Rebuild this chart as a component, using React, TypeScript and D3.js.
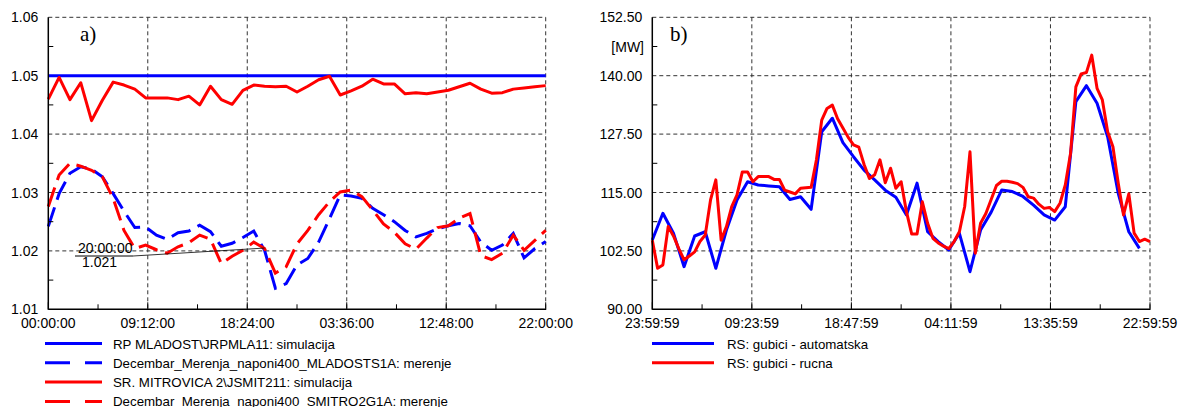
import React from 'react';
import * as d3 from 'd3';

// ---------- Chart a) : voltages (p.u.), hourly over 46 h ----------
const leftXTickLabels = ['00:00:00', '09:12:00', '18:24:00', '03:36:00', '12:48:00', '22:00:00'];
const leftYTicks = [1.01, 1.02, 1.03, 1.04, 1.05, 1.06];
const leftYTickLabels = ['1.01', '1.02', '1.03', '1.04', '1.05', '1.06'];

const simTimes = [0, 46];
const mladostSim = [1.05, 1.05];

const mitrovicaSim = [
  1.0460, 1.0497, 1.0459, 1.0488, 1.0423, 1.0458, 1.0489, 1.0484, 1.0477, 1.0462,
  1.0462, 1.0462, 1.0459, 1.0465, 1.0450, 1.0482, 1.0459, 1.0451, 1.0475, 1.0484,
  1.0482, 1.0481, 1.0482, 1.0472, 1.0482, 1.0493, 1.0499, 1.0467, 1.0474, 1.0482,
  1.0494, 1.0486, 1.0486, 1.0469, 1.0471, 1.0469, 1.0472, 1.0475, 1.0481, 1.0487,
  1.0477, 1.0470, 1.0471, 1.0477, 1.0479, 1.0481, 1.0483,
];

const mladostMeas = [
  1.0242, 1.0298, 1.0333, 1.0344, 1.0340, 1.0327, 1.0298, 1.0268, 1.0240, 1.0241,
  1.0227, 1.0220, 1.0231, 1.0234, 1.0244, 1.0233, 1.0208, 1.0213, 1.0223, 1.0234,
  1.0201, 1.0136, 1.0144, 1.0176, 1.0187, 1.0215, 1.0255, 1.0296, 1.0294, 1.0290,
  1.0273, 1.0262, 1.0250, 1.0235, 1.0224, 1.0230, 1.0238, 1.0243, 1.0247, 1.0243,
  1.0215, 1.0201, 1.0210, 1.0230, 1.0188, 1.0204, 1.0216,
];

const mitrovicaMeas = [
  1.0276, 1.0330, 1.0350, 1.0345, 1.0338, 1.0327, 1.0290, 1.0235, 1.0204, 1.0210,
  1.0202, 1.0196, 1.0207, 1.0214, 1.0227, 1.0220, 1.0178, 1.0191, 1.0201, 1.0215,
  1.0204, 1.0162, 1.0173, 1.0212, 1.0235, 1.0262, 1.0284, 1.0301, 1.0304, 1.0293,
  1.0270, 1.0246, 1.0232, 1.0212, 1.0203, 1.0222, 1.0240, 1.0243, 1.0256, 1.0264,
  1.0192, 1.0185, 1.0196, 1.0227, 1.0201, 1.0218, 1.0235,
];

const leftLegend = [
  'RP MLADOST\\JRPMLA11: simulacija',
  'Decembar_Merenja_naponi400_MLADOSTS1A: merenje',
  'SR. MITROVICA 2\\JSMIT211: simulacija',
  'Decembar_Merenja_naponi400_SMITRO2G1A: merenje',
];

const annotTime = 20;
const annotValue = 1.021;
const annotLabels = ['20:00:00', '1.021'];

// ---------- Chart b) : losses (MW) over 47 h ----------
const rightXTickLabels = ['23:59:59', '09:23:59', '18:47:59', '04:11:59', '13:35:59', '22:59:59'];
const rightYTicks = [90, 102.5, 115, 127.5, 140, 152.5];
const rightYTickLabels = ['90.00', '102.50', '115.00', '127.50', '140.00', '152.50'];

// hourly
const lossAuto = [
  104.83, 110.55, 106.27, 99.12, 105.69, 106.6, 98.77, 106.97, 113.4, 117.3,
  116.6, 116.4, 116.24, 113.5, 114.1, 111.4, 128.0, 130.9, 125.66, 122.66,
  119.8, 117.7, 115.5, 114.0, 110.2, 117.0, 106.6, 104.5, 102.7, 106.27,
  98.05, 106.97, 110.8, 115.55, 115.2, 114.15, 112.3, 110.2, 109.1, 111.96,
  134.44, 137.86, 134.1, 126.94, 114.83, 106.6, 103.05,
];

// half-hourly
const lossManual = [
  104.8, 98.8, 99.5, 107.7, 105.7, 103.0, 100.6, 101.4, 102.3, 104.5,
  105.9, 113.4, 117.7, 104.8, 107.7, 112.0, 114.5, 119.4, 119.4, 117.3,
  118.4, 118.4, 118.4, 117.8, 117.8, 115.5, 115.1, 114.7, 115.9, 116.0,
  116.1, 122.0, 130.5, 133.0, 133.7, 130.8, 128.8, 126.8, 125.2, 124.7,
  121.0, 118.0, 118.8, 122.0, 117.1, 120.2, 115.9, 117.3, 110.9, 106.1,
  106.1, 113.0, 108.4, 105.2, 104.2, 103.5, 103.0, 104.5, 106.6, 112.0,
  123.7, 102.0, 108.4, 110.5, 113.5, 116.5, 117.4, 117.4, 117.2, 116.9,
  116.1, 114.1, 113.8, 112.5, 111.6, 111.8, 110.9, 112.7, 116.6, 123.4,
  137.6, 140.4, 140.7, 144.4, 137.3, 134.8, 128.0, 124.8, 117.0, 110.2,
  114.7, 106.3, 104.5, 105.0, 104.5,
];

const rightLegend = ['RS: gubici - automatska', 'RS: gubici - rucna'];

const FONT = '"Liberation Sans", Arial, sans-serif';
const SERIF = '"Liberation Serif", "Times New Roman", serif';
const BLUE = '#0000ff';
const RED = '#ff0000';
const GRID = '#333333';

type Pt = [number, number];

function Panel(props: {
  x: d3.ScaleLinear<number, number>;
  y: d3.ScaleLinear<number, number>;
  xTicks: number[];
  xLabels: string[];
  yTicks: number[];
  yLabels: string[];
  children?: React.ReactNode;
}) {
  const { x, y, xTicks, xLabels, yTicks, yLabels } = props;
  const [x0, x1] = x.range();
  const [yb, yt] = y.range();
  const xMinor = xTicks.slice(0, -1).map((t, i) => (t + xTicks[i + 1]) / 2);
  const yMinor = yTicks.slice(0, -1).map((t, i) => (t + yTicks[i + 1]) / 2);
  return (
    <g>
      {xTicks.slice(1).map((t, i) => (
        <line key={'gx' + i} x1={x(t)} x2={x(t)} y1={yt} y2={yb} stroke={GRID} strokeWidth={1} strokeDasharray="4,3" />
      ))}
      {yTicks.slice(1).map((t, i) => (
        <line key={'gy' + i} x1={x0} x2={x1} y1={y(t)} y2={y(t)} stroke={GRID} strokeWidth={1} strokeDasharray="4,3" />
      ))}
      {props.children}
      <line x1={x0} x2={x0} y1={yt} y2={yb + 0.5} stroke="#000" strokeWidth={1.5} />
      <line x1={x0} x2={x1 + 0.5} y1={yb} y2={yb} stroke="#000" strokeWidth={1.5} />
      {xMinor.map((t, i) => (
        <line key={'mx' + i} x1={x(t)} x2={x(t)} y1={yb} y2={yb - 5} stroke="#000" strokeWidth={1} />
      ))}
      {xTicks.map((t, i) => (
        <line key={'tx' + i} x1={x(t)} x2={x(t)} y1={yb} y2={yb - 7} stroke="#000" strokeWidth={1} />
      ))}
      {yMinor.map((t, i) => (
        <line key={'my' + i} x1={x0} x2={x0 + 5} y1={y(t)} y2={y(t)} stroke="#000" strokeWidth={1} />
      ))}
      {xTicks.map((t, i) => (
        <text key={'lx' + i} x={x(t)} y={yb + 19} textAnchor="middle" fontFamily={FONT} fontSize={14} fill="#000">
          {xLabels[i]}
        </text>
      ))}
      {yTicks.map((t, i) => (
        <text key={'ly' + i} x={x0 - 10} y={y(t) + 5} textAnchor="end" fontFamily={FONT} fontSize={14} fill="#000">
          {yLabels[i]}
        </text>
      ))}
    </g>
  );
}

export default function App() {
  const W = 1184;
  const H = 407;
  const top = 17.3;
  const bottom = 309.3;

  // chart a)
  const lx = d3.scaleLinear().domain([0, 46]).range([48.3, 545.7]);
  const ly = d3.scaleLinear().domain([1.01, 1.06]).range([bottom, top]);
  const lLine = d3.line<Pt>().x((d) => lx(d[0])).y((d) => ly(d[1]));
  const hourly = (arr: number[]): Pt[] => arr.map((v, i) => [i, v] as Pt);
  const leftXTicks = leftXTickLabels.map((_, i) => i * 9.2);

  // chart b)
  const rx = d3.scaleLinear().domain([0, 47]).range([652.3, 1150]);
  const ry = d3.scaleLinear().domain([90, 152.5]).range([bottom, top]);
  const rLine = d3.line<Pt>().x((d) => rx(d[0])).y((d) => ry(d[1]));
  const rightXTicks = rightXTickLabels.map((_, i) => i * 9.4);

  const autoPts: Pt[] = lossAuto.map((v, i) => [i, v] as Pt);
  const manualPts: Pt[] = lossManual.map((v, i) => [i * 0.5, v] as Pt);

  const ax = lx(annotTime);
  const ay = ly(annotValue);

  const leftLegendStyles = [
    { c: BLUE, dash: undefined },
    { c: BLUE, dash: '25,15' },
    { c: RED, dash: undefined },
    { c: RED, dash: '25,15' },
  ];
  const rightLegendColors = [BLUE, RED];
  const legendY0 = 343.5;
  const legendStep = 19.3;

  return (
    <svg width={W} height={H} style={{ position: 'absolute', left: 0, top: 0, background: '#fff' }}>
      <rect x={0} y={0} width={W} height={H} fill="#fff" />
      <Panel x={lx} y={ly} xTicks={leftXTicks} xLabels={leftXTickLabels} yTicks={leftYTicks} yLabels={leftYTickLabels}>
        <path d={lLine(simTimes.map((t, i) => [t, mladostSim[i]] as Pt)) || ''} fill="none" stroke={BLUE} strokeWidth={3} />
        <path d={lLine(hourly(mitrovicaSim)) || ''} fill="none" stroke={RED} strokeWidth={3} strokeLinejoin="round" />
        <path d={lLine(hourly(mladostMeas)) || ''} fill="none" stroke={BLUE} strokeWidth={3} strokeDasharray="20,8" />
        <path d={lLine(hourly(mitrovicaMeas)) || ''} fill="none" stroke={RED} strokeWidth={3} strokeDasharray="20,8" />
        <line x1={75} x2={133} y1={256} y2={256} stroke="#000" strokeWidth={1} />
        <line x1={133} x2={ax} y1={256} y2={ay + 3} stroke="#000" strokeWidth={0.8} />
        <text x={78} y={253} fontFamily={FONT} fontSize={14} fill="#000">{annotLabels[0]}</text>
        <text x={82} y={267} fontFamily={FONT} fontSize={14} fill="#000">{annotLabels[1]}</text>
        <text x={80} y={41} fontFamily={SERIF} fontSize={21} fill="#000">a)</text>
      </Panel>
      <Panel x={rx} y={ry} xTicks={rightXTicks} xLabels={rightXTickLabels} yTicks={rightYTicks} yLabels={rightYTickLabels}>
        <path d={rLine(autoPts) || ''} fill="none" stroke={BLUE} strokeWidth={3} strokeLinejoin="round" />
        <path d={rLine(manualPts) || ''} fill="none" stroke={RED} strokeWidth={3} strokeLinejoin="round" />
        <text x={670} y={41} fontFamily={SERIF} fontSize={21} fill="#000">b)</text>
        <text x={644} y={ry(146.25) + 5} textAnchor="end" fontFamily={FONT} fontSize={14} fill="#000">[MW]</text>
      </Panel>
      {leftLegend.map((label, i) => (
        <g key={'ll' + i}>
          <line x1={45} x2={102} y1={legendY0 + i * legendStep} y2={legendY0 + i * legendStep}
            stroke={leftLegendStyles[i].c} strokeWidth={3} strokeDasharray={leftLegendStyles[i].dash} />
          <text x={113} y={legendY0 + i * legendStep + 5} fontFamily={FONT} fontSize={13.3} fill="#000">{label}</text>
        </g>
      ))}
      {rightLegend.map((label, i) => (
        <g key={'rl' + i}>
          <line x1={652} x2={714} y1={legendY0 + i * legendStep} y2={legendY0 + i * legendStep}
            stroke={rightLegendColors[i]} strokeWidth={3} />
          <text x={727} y={legendY0 + i * legendStep + 5} fontFamily={FONT} fontSize={13.3} fill="#000">{label}</text>
        </g>
      ))}
    </svg>
  );
}
